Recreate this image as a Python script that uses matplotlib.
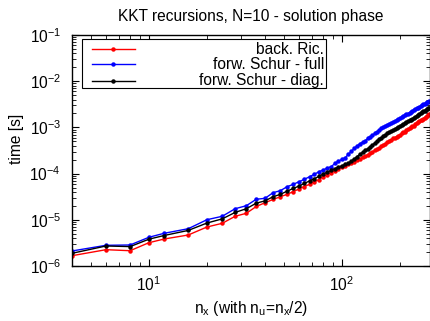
import numpy as np
import matplotlib
matplotlib.use("Agg")
import matplotlib.pyplot as plt
from matplotlib.lines import Line2D
from matplotlib.patches import Rectangle

plt.rcParams['font.family'] = ['Liberation Sans', 'DejaVu Sans']
plt.rcParams['mathtext.fontset'] = 'custom'
plt.rcParams['mathtext.rm'] = 'Liberation Sans'
plt.rcParams['mathtext.it'] = 'Liberation Sans'

nx = [4, 6, 8, 10, 12, 16, 20, 24, 28, 32, 36, 40, 44, 48, 52, 56, 60, 64, 68, 72,
      76, 80, 84, 88, 92, 96, 100, 104, 108, 112, 116, 120, 124, 128, 132, 136, 140,
      144, 148, 152, 156, 160, 164, 168, 172, 176, 180, 184, 188, 192, 196, 200, 204,
      208, 212, 216, 220, 224, 228, 232, 236, 240, 244, 248, 252, 256, 260, 264, 268,
      272, 276, 280, 284, 288, 292, 296, 300]

# log10 of time [s]
log_back_ric = [-5.777, -5.647, -5.669, -5.496, -5.416, -5.329, -5.156, -5.076, -4.924, -4.859,
                -4.712, -4.630, -4.56, -4.50, -4.45, -4.39, -4.33, -4.28, -4.23, -4.18,
                -4.13, -4.07, -4.02, -3.98, -3.94, -3.90, -3.86, -3.83, -3.80, -3.77,
                -3.74, -3.71, -3.68, -3.65, -3.62, -3.59, -3.56, -3.53, -3.50, -3.47,
                -3.44, -3.41, -3.38, -3.35, -3.32, -3.29, -3.27, -3.24, -3.22, -3.20,
                -3.18, -3.16, -3.13, -3.11, -3.09, -3.06, -3.04, -3.02, -3.00, -2.98,
                -2.96, -2.93, -2.91, -2.89, -2.87, -2.85, -2.83, -2.81, -2.79, -2.77,
                -2.75, -2.74, -2.72, -2.71, -2.69, -2.68, -2.66]

log_schur_full = [-5.675, -5.552, -5.545, -5.379, -5.292, -5.193, -4.998, -4.924, -4.760, -4.695,
                  -4.556, -4.535, -4.413, -4.370, -4.284, -4.232, -4.175, -4.123, -4.067, -4.015,
                  -3.959, -3.922, -3.88, -3.85, -3.78, -3.73, -3.69, -3.66, -3.58, -3.52,
                  -3.45, -3.40, -3.35, -3.32, -3.29, -3.24, -3.20, -3.17, -3.13, -3.09,
                  -3.06, -3.02, -3.00, -2.97, -2.94, -2.92, -2.90, -2.88, -2.86, -2.84,
                  -2.82, -2.80, -2.78, -2.76, -2.74, -2.72, -2.70, -2.68, -2.67, -2.65,
                  -2.63, -2.61, -2.59, -2.57, -2.56, -2.54, -2.52, -2.50, -2.49, -2.47,
                  -2.46, -2.44, -2.43, -2.42, -2.40, -2.39, -2.38]

log_schur_diag = [-5.725, -5.567, -5.58, -5.42, -5.34, -5.23, -5.07, -4.98, -4.84, -4.76,
                  -4.64, -4.59, -4.50, -4.45, -4.38, -4.32, -4.27, -4.21, -4.16, -4.11,
                  -4.06, -4.01, -3.97, -3.93, -3.89, -3.86, -3.83, -3.80, -3.77, -3.73,
                  -3.68, -3.63, -3.58, -3.54, -3.50, -3.46, -3.42, -3.38, -3.34, -3.30,
                  -3.26, -3.22, -3.19, -3.16, -3.13, -3.10, -3.08, -3.06, -3.04, -3.01,
                  -2.99, -2.97, -2.95, -2.93, -2.91, -2.89, -2.87, -2.85, -2.83, -2.81,
                  -2.79, -2.77, -2.75, -2.73, -2.71, -2.69, -2.67, -2.65, -2.64, -2.62,
                  -2.61, -2.59, -2.58, -2.57, -2.55, -2.54, -2.53]

labels = ['back. Ric.', 'forw. Schur - full', 'forw. Schur - diag.']
colors = ['#ff0000', '#0000ff', '#000000']
series = [log_back_ric, log_schur_full, log_schur_diag]

FS = 11.2

fig = plt.figure(figsize=(4.31, 3.21), dpi=100)
ax = fig.add_axes([72/431, 1 - 266/321, (430 - 72)/431, (266 - 35)/321])

for vals, c in zip(series, colors):
    ax.plot(nx, 10.0 ** np.array(vals), color=c, lw=1.0, marker='o', ms=2.2,
            mec=c, mfc=c, clip_on=True)

ax.set_xscale('log')
ax.set_yscale('log')
ax.set_xlim(4, 286)
ax.set_ylim(1e-6, 1e-1)

ax.tick_params(which='both', direction='in', top=True, right=True, labelsize=FS, colors='black')
ax.tick_params(which='major', length=5, width=0.8)
ax.tick_params(which='minor', length=3, width=0.6)
ax.tick_params(axis='y', pad=8)
ax.tick_params(axis='x', pad=7)
ax.yaxis.set_major_locator(matplotlib.ticker.LogLocator(base=10, numticks=10))
ax.yaxis.set_minor_locator(matplotlib.ticker.LogLocator(base=10, subs=np.arange(2, 10), numticks=20))
ax.yaxis.set_minor_formatter(matplotlib.ticker.NullFormatter())
ax.xaxis.set_minor_formatter(matplotlib.ticker.NullFormatter())
for s in ax.spines.values():
    s.set_linewidth(1.0)

ax.set_title('KKT recursions, N=10 - solution phase', fontsize=FS, pad=10)
ax.set_xlabel(r'n$_\mathrm{x}$ (with n$_\mathrm{u}$=n$_\mathrm{x}$/2)', fontsize=FS)
ax.set_ylabel('time [s]', fontsize=FS)
ax.yaxis.set_label_coords(-0.135, 0.55)
ax.xaxis.set_label_coords(0.5, -0.145)

# legend box (gnuplot style: sample left, text right-aligned)
ax.add_patch(Rectangle((0.027, 0.769), 0.709 - 0.027, 0.981 - 0.769, transform=ax.transAxes,
                       fill=True, facecolor='white', edgecolor='black', lw=0.8, zorder=5))
ys = [0.939, 0.874, 0.802]
for lab, c, y in zip(labels, colors, ys):
    ax.add_line(Line2D([0.055, 0.176], [y, y], transform=ax.transAxes, color=c, lw=1.0, zorder=6))
    ax.add_line(Line2D([0.115], [y], transform=ax.transAxes, color=c, marker='o', ms=2.2,
                       mec=c, mfc=c, zorder=6))
    ax.text(0.704, y, lab, transform=ax.transAxes, ha='right', va='center', fontsize=FS, zorder=7)

fig.savefig('out.png', dpi=100)
